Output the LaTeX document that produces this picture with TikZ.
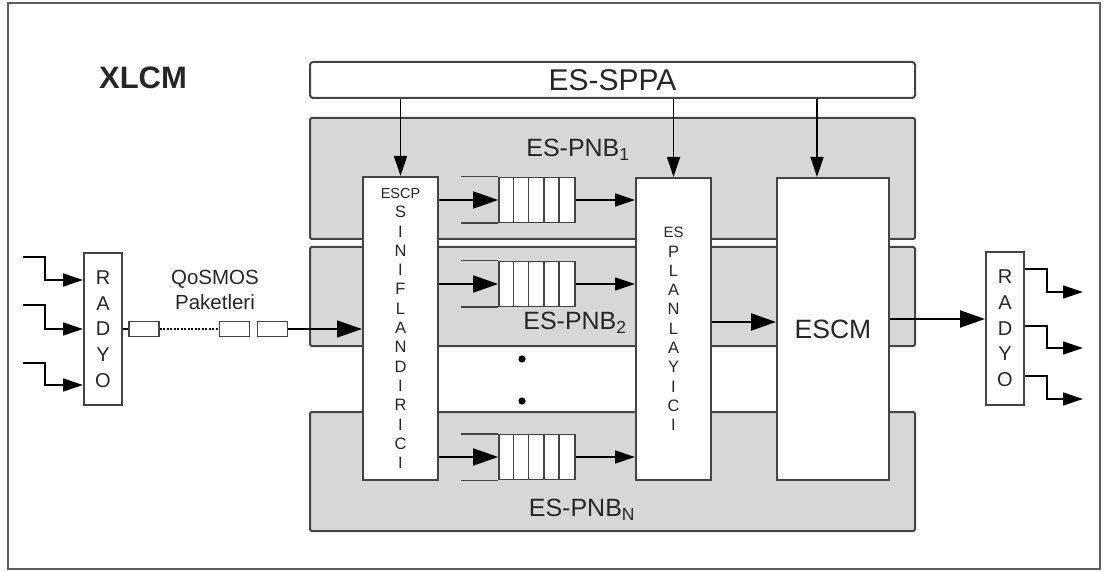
\documentclass[tikz,border=0pt]{standalone}
\usepackage{fontspec}
\setmainfont{Liberation Sans}
\usetikzlibrary{
  arrows.meta,
  positioning,
  calc
}
\definecolor{xlcmLine}{RGB}{68,68,68}
\definecolor{xlcmBand}{RGB}{215,215,215}
\definecolor{xlcmText}{RGB}{38,38,38}
\definecolor{xlcmFrame}{RGB}{95,95,95}
\tikzset{
  xbox/.style={
    draw=xlcmLine,
    line width=2pt,
    fill=white,
    inner sep=0pt,
    align=center,
    text=xlcmText
  },
  band/.style={
    draw=xlcmLine,
    line width=2pt,
    rounded corners=2pt,
    fill=xlcmBand,
    inner sep=0pt,
    minimum width=605pt
  },
  vbox/.style={
    xbox,
    minimum width=75pt,
    minimum height=302pt,
    font=\fontsize{16.5}{19.3}\selectfont
  },
  radyo/.style={
    xbox,
    minimum width=38pt,
    minimum height=152pt,
    font=\fontsize{20}{25.7}\selectfont
  },
  qcell/.style={
    draw=xlcmLine,
    line width=1.6pt,
    fill=white,
    minimum width=76pt,
    minimum height=45pt,
    inner sep=0pt
  },
  qline/.style={
    draw=xlcmLine,
    line width=1.6pt
  },
  packet/.style={
    draw=xlcmLine,
    line width=1.4pt,
    fill=white,
    minimum width=30pt,
    minimum height=15pt,
    inner sep=0pt
  },
  bandlabel/.style={
    font=\fontsize{25}{30}\selectfont,
    text=xlcmText
  },
  bigarrow/.style={
    -{Triangle[length=25pt,width=17pt]},
    line width=1.6pt
  },
  smallarrow/.style={
    -{Triangle[length=20pt,width=13pt]},
    line width=1.3pt
  }
}

\begin{document}
\begin{tikzpicture}[x=1pt, y=-1pt]
  \useasboundingbox (0,0) rectangle (1104,572);
  \draw[line width=2pt, draw=xlcmFrame] (8,3) rectangle (1100,569);

  \node[font=\fontsize{31}{36}\selectfont\bfseries, text=xlcmText] (title) at (143,78) {XLCM};

  % parameter box and the class bands
  \node[xbox, rounded corners=3pt, minimum width=605pt, minimum height=36pt,
    font=\fontsize{30}{36}\selectfont] (sppa) at (612.5,80) {ES-SPPA};
  \node[band, minimum height=121pt] (pnb1) at (612.5,178.5) {};
  \node[band, minimum height=99pt] (pnb2) at (612.5,296.5) {};
  \node[band, minimum height=119pt] (pnbN) at (612.5,471.5) {};
  \node[bandlabel] (pnb1lbl) at (578,150) {ES-PNB\textsubscript{1}};
  \node[bandlabel] (pnb2lbl) at (575,323) {ES-PNB\textsubscript{2}};
  \node[bandlabel] (pnbNlbl) at (582,510) {ES-PNB\textsubscript{N}};

  \node[vbox, minimum height=303pt] (escp) at (400.5,328.5)
    {{\fontsize{14.5}{19.3}\selectfont ESCP}\\S\\I\\N\\I\\F\\L\\A\\N\\D\\I\\R\\I\\C\\I};
  \node[vbox] (plan) at (673.5,329)
    {{\fontsize{15}{19.3}\selectfont ES}\\P\\L\\A\\N\\L\\A\\Y\\I\\C\\I};
  \node[xbox, minimum width=112pt, minimum height=302pt,
    font=\fontsize{26.5}{30}\selectfont] (escm) at (833,329) {ESCM};

  \node[radyo] (radL) at (103,329) {R\\A\\D\\Y\\O};
  \node[radyo] (radR) at (1005,328.5) {R\\A\\D\\Y\\O};

  % queues
  \foreach \n/\y in {1/200, 2/284, N/457} {
    \node[qcell] (q\n) at (537,\y) {};
    \foreach \k in {1,...,4}
      \draw[qline] ($(q\n.north west)+(\k*15.2,0)$) -- ++(0,45);
    \draw[qline] (q\n.north west) -- ++(-37,0);
    \draw[qline] (q\n.south west) -- ++(-37,0);
    \draw[bigarrow] (escp.east |- q\n.west) -- (q\n.west);
    \draw[smallarrow] (q\n.east) -- (plan.west |- q\n.east);
  }
  \fill (522,359) circle (3.6);
  \fill (522,401) circle (3.6);

  % packets
  \node[packet] (pk1) at (144,329) {};
  \node[packet] (pk2) at (234.5,329) {};
  \node[packet] (pk3) at (272.5,329) {};
  \node[font=\fontsize{20.5}{25}\selectfont, align=center, text=xlcmText] (qos) at (215,290)
    {QoSMOS\\Paketleri};
  \draw[line width=1.3pt] (radL.east) -- (pk1.west);
  \draw[line width=1.3pt, dash pattern=on 2pt off 1.5pt] (pk1.east) -- (pk2.west);
  \draw[bigarrow] (pk3.east) -- (escp.west |- pk3.east);

  % inputs and outputs
  \foreach \i/\ya/\yb in {1/257/280, 2/305/329, 3/363/385} {
    \coordinate (in\i) at (23,\ya);
    \draw[smallarrow] (in\i) -| (45,\yb) -- (radL.west |- 0,\yb);
  }
  \foreach \i/\ya/\yb in {1/269/292, 2/326/348, 3/376/399} {
    \coordinate (out\i) at (1083,\yb);
    \draw[smallarrow] (radR.east |- 0,\ya) -| (1047,\yb) -- (out\i);
  }

  % control arrows
  \coordinate (escmin) at ($(escm.north)+(-16,0)$);
  \draw[smallarrow] (escp.north |- sppa.south) -- (escp.north);
  \draw[smallarrow] (plan.north |- sppa.south) -- (plan.north);
  \draw[smallarrow] (escmin |- sppa.south) -- (escmin);
  \draw[bigarrow, line width=2.4pt] (plan.east |- 0,322) -- (escm.west |- 0,322);
  \draw[bigarrow, line width=2.2pt] (escm.east |- 0,319) -- (radR.west |- 0,319);
\end{tikzpicture}
\end{document}
